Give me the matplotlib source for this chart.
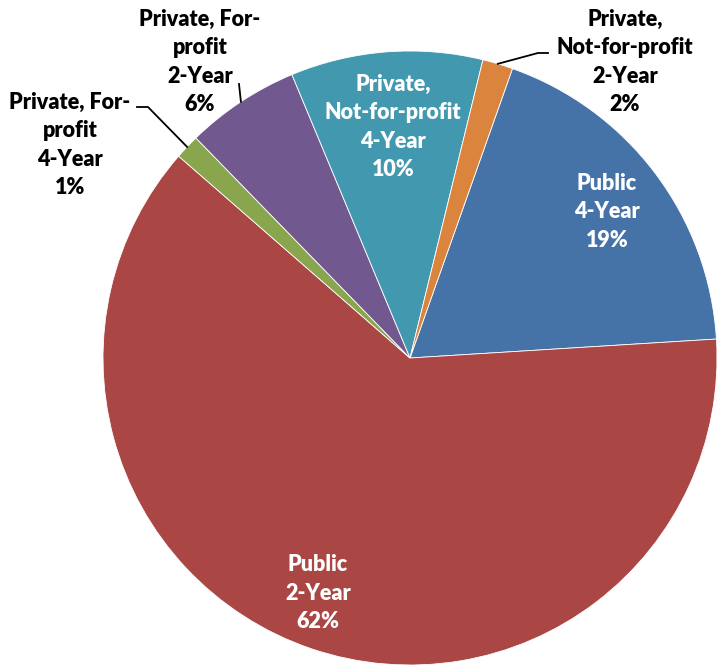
import numpy as np
import matplotlib.pyplot as plt

# slice data, clockwise from the first slice
labels = ["Public\n4-Year", "Public\n2-Year", "Private, For-\nprofit\n4-Year",
          "Private, For-\nprofit\n2-Year", "Private,\nNot-for-profit\n4-Year",
          "Private,\nNot-for-profit\n2-Year"]
shares = [18.6, 62.4, 1.3, 6.0, 10.1, 1.6]
pct_text = ["19%", "62%", "1%", "6%", "10%", "2%"]
colors = ["#4572A7", "#AA4643", "#89A54E", "#71588F", "#4198AF", "#DB843D"]

# label placement (pixels from top-left) and style
label_pos = [(607, 212), (318, 593), (70, 145), (200, 62), (393, 127), (625, 62)]
label_col = ["white", "white", "black", "black", "white", "black"]
# leader line: label-side points (pixels), None for inside labels
leaders = [None, None, [(137, 107), (148, 107)], [(239, 84)], None,
           [(548, 53), (538, 53)]]

W, H = 717, 666
cx, cy, R = 410, H - 358, 307

fig = plt.figure(figsize=(W / 100, H / 100), dpi=100)
ax = fig.add_axes([0, 0, 1, 1])
wedges, _ = ax.pie(shares, colors=colors, startangle=70.5, counterclock=False,
                   center=(cx, cy), radius=R, frame=False,
                   wedgeprops=dict(edgecolor="white", linewidth=0.6))
ax.set_xlim(0, W)
ax.set_ylim(0, H)
ax.set_aspect("equal")
ax.axis("off")

for i, w in enumerate(wedges):
    x, y = label_pos[i]
    ax.text(x, H - y, labels[i] + "\n" + pct_text[i], ha="center", va="center",
            color=label_col[i], fontsize=15.5, fontweight="heavy", family="Lato",
            linespacing=1.42)
    if leaders[i] is not None:
        mid = np.deg2rad((w.theta1 + w.theta2) / 2)
        tip = (cx + R * np.cos(mid), cy + R * np.sin(mid))
        xs = [p[0] for p in leaders[i]] + [tip[0]]
        ys = [H - p[1] for p in leaders[i]] + [tip[1]]
        ax.plot(xs, ys, color="black", linewidth=1.3)

fig.savefig("out.png", dpi=100, facecolor="white")
